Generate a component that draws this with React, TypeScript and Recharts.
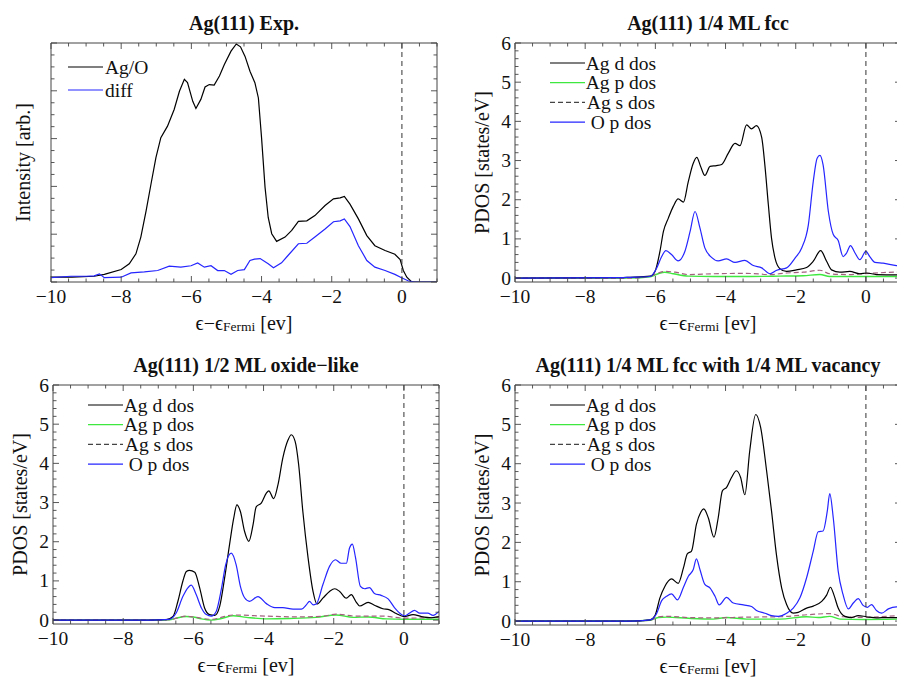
import { Label, Line, LineChart, XAxis, YAxis } from "recharts";

const FONT = '"Liberation Serif", "DejaVu Serif", serif';
const FRAME = "#454545";
const BLACK = "#000000";
const BLUE = "#2525ff";
const GREEN = "#3fe83f";
const SDOS = "#a3607f";
const TXT = { fontFamily: FONT, fontSize: 19.5, fill: "#111" };
const BIG = { ...TXT, fontSize: 20 };

// ---- Ag(111) Exp. (arb. units, 0..5) ----
const expAgO = [
  [-10, 0.1], [-9.4, 0.1], [-8.77, 0.12], [-8.48, 0.16], [-8.0, 0.26], [-7.77, 0.38], [-7.58, 0.59],
  [-7.44, 0.94], [-7.29, 1.49], [-7.15, 2.05], [-7.01, 2.6], [-6.87, 3.02], [-6.68, 3.26], [-6.49, 3.61],
  [-6.34, 3.99], [-6.2, 4.24], [-6.11, 4.17], [-5.96, 3.78], [-5.87, 3.63], [-5.73, 3.82], [-5.61, 4.08],
  [-5.49, 4.13], [-5.35, 4.12], [-5.2, 4.31], [-5.06, 4.55], [-4.87, 4.83], [-4.72, 4.98], [-4.6, 4.92],
  [-4.47, 4.72], [-4.33, 4.41], [-4.19, 4.17], [-4.09, 3.85], [-4.0, 3.02], [-3.9, 1.98], [-3.81, 1.35],
  [-3.71, 1.01], [-3.57, 0.85], [-3.33, 0.94], [-3.14, 1.08], [-2.95, 1.27], [-2.71, 1.28], [-2.48, 1.39],
  [-2.19, 1.6], [-1.95, 1.74], [-1.76, 1.76], [-1.64, 1.79], [-1.48, 1.63], [-1.24, 1.32], [-1.0, 0.97],
  [-0.77, 0.76], [-0.48, 0.66], [-0.2, 0.58], [-0.05, 0.47], [0.04, 0.24], [0.14, 0.1], [0.28, 0.0], [1.0, 0.0],
];
const expDiff = [
  [-10, 0.09], [-9.43, 0.12], [-9.0, 0.12], [-8.77, 0.13], [-8.62, 0.17], [-8.48, 0.09], [-8.0, 0.1],
  [-7.72, 0.19], [-7.34, 0.21], [-6.96, 0.24], [-6.63, 0.33], [-6.3, 0.31], [-6.01, 0.34], [-5.82, 0.4],
  [-5.63, 0.31], [-5.44, 0.34], [-5.25, 0.24], [-5.06, 0.24], [-4.87, 0.16], [-4.68, 0.24], [-4.49, 0.26],
  [-4.33, 0.45], [-4.2, 0.48], [-4.04, 0.49], [-3.81, 0.38], [-3.66, 0.3], [-3.43, 0.4], [-3.24, 0.56],
  [-2.95, 0.8], [-2.71, 0.81], [-2.48, 0.94], [-2.19, 1.11], [-1.95, 1.26], [-1.76, 1.28], [-1.64, 1.32],
  [-1.48, 1.16], [-1.24, 0.76], [-1.0, 0.45], [-0.77, 0.31], [-0.48, 0.24], [-0.2, 0.16], [-0.01, 0.09],
  [0.19, 0.02], [0.37, 0.0], [1.0, 0.0],
];

// ---- Ag(111) 1/4 ML fcc ----
const fccD = [
  [-10, 0], [-7, 0.01], [-6.72, 0.02], [-6.15, 0.05], [-6.01, 0.17], [-5.87, 0.68], [-5.77, 1.19], [-5.63, 1.53],
  [-5.49, 1.83], [-5.35, 2.02], [-5.2, 1.94], [-5.06, 2.47], [-4.92, 2.93], [-4.82, 3.08], [-4.71, 2.85],
  [-4.59, 2.62], [-4.44, 2.85], [-4.26, 2.87], [-4.11, 2.9], [-3.92, 3.19], [-3.73, 3.44], [-3.59, 3.38],
  [-3.4, 3.91], [-3.26, 3.81], [-3.12, 3.89], [-2.97, 3.59], [-2.88, 2.89], [-2.78, 1.87], [-2.69, 1.02],
  [-2.59, 0.51], [-2.45, 0.24], [-2.26, 0.17], [-1.98, 0.21], [-1.69, 0.27], [-1.5, 0.43], [-1.29, 0.7],
  [-1.12, 0.43], [-0.98, 0.21], [-0.74, 0.15], [-0.46, 0.17], [-0.17, 0.11], [0.02, 0.13], [0.3, 0.09],
  [0.87, 0.08], [1, 0.08],
];
const fccP = [
  [-10, 0], [-6.72, 0], [-6.15, 0.03], [-5.92, 0.11], [-5.73, 0.15], [-5.49, 0.11], [-5.06, 0.05], [-4.35, 0.04],
  [-3.4, 0.04], [-2.45, 0.05], [-1.79, 0.06], [-1.31, 0.09], [-1.03, 0.04], [-0.08, 0.04], [1, 0.04],
];
const fccS = [
  [-10, 0], [-6.72, 0], [-6.15, 0.05], [-5.92, 0.13], [-5.73, 0.17], [-5.44, 0.15], [-5.06, 0.09], [-4.35, 0.11],
  [-3.4, 0.12], [-2.73, 0.09], [-2.26, 0.13], [-1.79, 0.15], [-1.31, 0.2], [-1.03, 0.11], [-0.55, 0.09],
  [-0.08, 0.11], [0.87, 0.15], [1, 0.15],
];
const fccO = [
  [-10, 0], [-7, 0.01], [-6.72, 0.02], [-6.15, 0.04], [-5.96, 0.26], [-5.82, 0.55], [-5.7, 0.7], [-5.54, 0.6],
  [-5.35, 0.44], [-5.16, 0.68], [-5.01, 1.19], [-4.87, 1.7], [-4.73, 1.28], [-4.59, 0.77], [-4.4, 0.53],
  [-4.21, 0.44], [-3.97, 0.49], [-3.73, 0.4], [-3.45, 0.45], [-3.21, 0.32], [-2.97, 0.26], [-2.73, 0.11],
  [-2.54, 0.2], [-2.26, 0.26], [-2.02, 0.51], [-1.83, 0.77], [-1.64, 1.36], [-1.5, 2.47], [-1.39, 3.06],
  [-1.31, 3.13], [-1.22, 2.89], [-1.07, 1.7], [-0.93, 1.11], [-0.79, 0.96], [-0.65, 0.55], [-0.55, 0.64],
  [-0.44, 0.83], [-0.31, 0.64], [-0.17, 0.47], [0, 0.68], [0.11, 0.55], [0.26, 0.4], [0.49, 0.38],
  [0.87, 0.32], [1, 0.31],
];

// ---- Ag(111) 1/2 ML oxide-like ----
const oxD = [
  [-10, 0], [-7.25, 0], [-6.77, 0.01], [-6.58, 0.09], [-6.44, 0.48], [-6.3, 0.99], [-6.2, 1.24], [-6.11, 1.27],
  [-5.96, 1.22], [-5.82, 0.82], [-5.68, 0.31], [-5.54, 0.14], [-5.39, 0.12], [-5.25, 0.35], [-5.11, 1.07],
  [-4.97, 1.92], [-4.85, 2.6], [-4.76, 2.94], [-4.66, 2.77], [-4.54, 2.26], [-4.42, 2.01], [-4.3, 2.43],
  [-4.21, 2.89], [-4.06, 2.99], [-3.92, 3.24], [-3.85, 3.3], [-3.71, 3.1], [-3.59, 3.45], [-3.45, 4.14],
  [-3.3, 4.6], [-3.21, 4.73], [-3.1, 4.56], [-3.0, 3.97], [-2.88, 2.77], [-2.73, 1.58], [-2.59, 0.73],
  [-2.48, 0.41], [-2.31, 0.56], [-2.12, 0.73], [-1.97, 0.8], [-1.83, 0.73], [-1.64, 0.56], [-1.5, 0.65],
  [-1.36, 0.46], [-1.26, 0.36], [-1.02, 0.45], [-0.84, 0.38], [-0.6, 0.29], [-0.41, 0.26], [-0.22, 0.17],
  [0, 0.09], [0.26, 0.14], [0.5, 0.09], [0.78, 0.06], [1, 0.09],
];
const oxP = [
  [-10, 0], [-7.25, 0], [-6.68, 0.01], [-6.49, 0.05], [-6.2, 0.09], [-6.01, 0.08], [-5.77, 0.03], [-5.49, 0],
  [-5.2, 0.04], [-4.87, 0.11], [-4.49, 0.07], [-3.92, 0.03], [-3.26, 0.04], [-2.5, 0.07], [-1.93, 0.13],
  [-1.45, 0.07], [-1.02, 0.08], [-0.5, 0.03], [0, 0.02], [1, 0.02],
];
const oxS = [
  [-10, 0], [-7.25, 0], [-6.68, 0.01], [-6.2, 0.1], [-6.01, 0.08], [-5.49, 0.02], [-4.87, 0.13], [-3.92, 0.1],
  [-2.97, 0.08], [-2.31, 0.1], [-1.93, 0.15], [-1.36, 0.1], [-0.6, 0.1], [0, 0.05], [1, 0.07],
];
const oxO = [
  [-10, 0], [-7.25, 0], [-6.68, 0.02], [-6.49, 0.18], [-6.3, 0.6], [-6.15, 0.83], [-6.06, 0.89], [-5.92, 0.65],
  [-5.77, 0.31], [-5.63, 0.14], [-5.49, 0.1], [-5.35, 0.22], [-5.2, 0.8], [-5.08, 1.41], [-4.92, 1.71],
  [-4.78, 1.41], [-4.66, 0.86], [-4.54, 0.57], [-4.4, 0.48], [-4.16, 0.6], [-3.92, 0.42], [-3.68, 0.32],
  [-3.45, 0.32], [-3.16, 0.28], [-2.92, 0.28], [-2.78, 0.39], [-2.69, 0.48], [-2.59, 0.39], [-2.5, 0.41],
  [-2.31, 0.9], [-2.12, 1.37], [-1.95, 1.54], [-1.79, 1.45], [-1.64, 1.45], [-1.55, 1.84], [-1.47, 1.94],
  [-1.38, 1.6], [-1.24, 0.86], [-1.12, 0.8], [-0.98, 0.83], [-0.84, 0.68], [-0.65, 0.63], [-0.45, 0.54],
  [-0.27, 0.32], [-0.08, 0.15], [0.02, 0.11], [0.16, 0.18], [0.3, 0.25], [0.45, 0.18], [0.68, 0.18],
  [0.83, 0.12], [1, 0.22],
];

// ---- Ag(111) 1/4 ML fcc with 1/4 ML vacancy ----
const vacD = [
  [-10, 0], [-6.72, 0], [-6.15, 0.03], [-6.01, 0.14], [-5.87, 0.59], [-5.73, 0.88], [-5.54, 1.07], [-5.35, 0.96],
  [-5.2, 1.35], [-5.09, 1.71], [-4.97, 1.78], [-4.83, 2.46], [-4.71, 2.76], [-4.62, 2.85], [-4.49, 2.62],
  [-4.33, 2.13], [-4.21, 2.62], [-4.09, 3.31], [-3.97, 3.4], [-3.83, 3.65], [-3.69, 3.82], [-3.57, 3.65],
  [-3.45, 3.21], [-3.31, 4.33], [-3.14, 5.25], [-3.0, 4.92], [-2.83, 3.82], [-2.69, 2.8], [-2.55, 1.69],
  [-2.4, 0.84], [-2.26, 0.42], [-2.07, 0.2], [-1.93, 0.22], [-1.69, 0.33], [-1.5, 0.38], [-1.26, 0.5],
  [-1.12, 0.66], [-1.01, 0.86], [-0.91, 0.66], [-0.79, 0.33], [-0.6, 0.12], [-0.41, 0.09], [-0.22, 0.14],
  [0.02, 0.11], [0.3, 0.08], [0.59, 0.09], [0.87, 0.09], [1, 0.09],
];
const vacP = [
  [-10, 0], [-6.72, 0], [-6.15, 0.02], [-5.92, 0.09], [-5.68, 0.1], [-5.06, 0.07], [-4.35, 0.05], [-3.97, 0.09],
  [-3.4, 0.05], [-2.45, 0.05], [-1.69, 0.11], [-1.36, 0.09], [-1.03, 0.12], [-0.74, 0.05], [-0.08, 0.04], [1, 0.05],
];
const vacS = [
  [-10, 0], [-6.72, 0], [-6.15, 0.02], [-5.92, 0.11], [-5.68, 0.12], [-5.06, 0.09], [-4.35, 0.08], [-3.4, 0.1],
  [-2.45, 0.11], [-1.69, 0.16], [-1.03, 0.19], [-0.65, 0.11], [-0.08, 0.09], [0.87, 0.13], [1, 0.13],
];
const vacO = [
  [-10, 0], [-6.72, 0], [-6.15, 0.03], [-5.96, 0.2], [-5.82, 0.52], [-5.68, 0.63], [-5.54, 0.69], [-5.37, 0.54],
  [-5.2, 0.86], [-5.06, 1.14], [-4.92, 1.31], [-4.83, 1.58], [-4.73, 1.31], [-4.59, 0.93], [-4.44, 0.84],
  [-4.3, 0.63], [-4.18, 0.41], [-3.97, 0.6], [-3.78, 0.46], [-3.49, 0.41], [-3.26, 0.37], [-3.12, 0.27],
  [-2.88, 0.2], [-2.69, 0.14], [-2.5, 0.12], [-2.26, 0.2], [-2.07, 0.33], [-1.88, 0.59], [-1.69, 1.1],
  [-1.5, 1.78], [-1.36, 2.27], [-1.22, 2.29], [-1.1, 2.8], [-1.03, 3.24], [-0.93, 2.62], [-0.79, 1.27],
  [-0.65, 0.67], [-0.5, 0.31], [-0.36, 0.46], [-0.22, 0.57], [-0.08, 0.4], [0.04, 0.35], [0.16, 0.42],
  [0.3, 0.27], [0.45, 0.2], [0.64, 0.31], [0.87, 0.36], [1, 0.36],
];

// ---- axes / labels ----
const xMajor = [-10, -8, -6, -4, -2, 0];
const dosMajor = [0, 1, 2, 3, 4, 5, 6];
const expMajor = [0, 1, 2, 3, 4, 5];
const dosNames = ["Ag d dos", "Ag p dos", "Ag s dos", "O p dos"];
const expNames = ["Ag/O", "diff"];
const titles = [
  "Ag(111) Exp.",
  "Ag(111) 1/4 ML fcc",
  "Ag(111) 1/2 ML oxide\u2212like",
  "Ag(111) 1/4 ML fcc with 1/4 ML vacancy",
];

const steps = (a: number, b: number, d: number) =>
  Array.from({ length: Math.round((b - a) / d) + 1 }, (_, i) => +(a + i * d).toFixed(3));
const xTicks = steps(-10, 1, 0.5);
const dosTicks = steps(0, 6, 0.2);
const expTicks = steps(0, 5, 0.25);

const pts = (arr: number[][]) => arr.map(([x, y]) => ({ x, y }));
const fmt = (v: number) => (v < 0 ? `\u2212${-v}` : `${v}`);

type Side = "bottom" | "top" | "left" | "right";

const tickMaker = (side: Side, majors: number[], labels: boolean) => (props: any) => {
  const { x, y, payload } = props;
  const v = payload.value as number;
  const major = majors.some((m) => Math.abs(m - v) < 1e-6);
  const len = major ? 6 : 3.5;
  const dx = side === "left" ? len : side === "right" ? -len : 0;
  const dy = side === "bottom" ? -len : side === "top" ? len : 0;
  return (
    <g>
      <line x1={x} y1={y} x2={x + dx} y2={y + dy} stroke={FRAME} strokeWidth={0.9} />
      {labels && major && side === "bottom" && (
        <text x={x} y={y + 14} textAnchor="middle" dominantBaseline="central" style={TXT}>
          {fmt(v)}
        </text>
      )}
      {labels && major && side === "left" && (
        <text x={x - 4} y={y} textAnchor="end" dominantBaseline="central" style={TXT}>
          {fmt(v)}
        </text>
      )}
    </g>
  );
};

type Series = { data: number[][]; color: string; dash?: string; width?: number; smooth?: boolean };
type Key = { name: string; color: string; dash?: string };

type PanelProps = {
  left: number;
  top: number;
  width: number;
  height: number;
  // plot box edges inside the chart (px)
  box: { top: number; right: number; bottom: number; left: number };
  title: string;
  yLabel: string;
  yDomain: [number, number];
  yTicks: number[];
  yMajor: number[];
  yNumbers: boolean;
  series: Series[];
  keys: Key[];
  compactKey?: boolean;
};

function Panel(p: PanelProps) {
  const fermi = pts([[0, p.yDomain[0]], [0, p.yDomain[1]]]);
  const yLabelGap = p.yNumbers ? 33 : 28;
  // axes are 1px thick bands, so take that off the margins
  const margin = {
    top: p.box.top - 1,
    right: p.width - p.box.right - 1,
    bottom: p.height - p.box.bottom - 1,
    left: p.box.left - 1,
  };

  const header = () => {
    const x = p.box.left;
    const y = p.box.top;
    const width = p.box.right - p.box.left;
    return (
      <g>
        <text x={x + width / 2} y={y - 20} textAnchor="middle" dominantBaseline="central" style={{ ...BIG, fontWeight: 700 }}>
          {p.title}
        </text>
        {p.keys.map((k, i) => {
          const ry = p.compactKey ? y + 24 + i * 23 : y + 20 + i * 19.7;
          const x1 = p.compactKey ? x + 17 : x + 35;
          const x2 = p.compactKey ? x + 52 : x + 70;
          return (
            <g key={k.name}>
              <line x1={x1} x2={x2} y1={ry} y2={ry} stroke={k.color} strokeWidth={1.2} strokeDasharray={k.dash} />
              <text
                x={p.compactKey ? x + 54 : x + 106}
                y={ry}
                textAnchor={p.compactKey ? "start" : "middle"}
                dominantBaseline="central"
                style={TXT}
              >
                {k.name}
              </text>
            </g>
          );
        })}
      </g>
    );
  };

  const xTitle = () => {
    const cx = (p.box.left + p.box.right) / 2;
    return (
      <text x={cx} y={p.box.bottom + 41} textAnchor="middle" dominantBaseline="central" style={BIG}>
        {"\u03f5\u2212\u03f5"}
        <tspan fontSize={13.5} dy={3}>
          Fermi
        </tspan>
        <tspan dy={-3}> [ev]</tspan>
      </text>
    );
  };

  const yTitle = () => {
    const cx = p.box.left - yLabelGap;
    const cy = (p.box.top + p.box.bottom) / 2;
    return (
      <text x={cx} y={cy} textAnchor="middle" dominantBaseline="central" transform={`rotate(-90 ${cx} ${cy})`} style={BIG}>
        {p.yLabel}
      </text>
    );
  };

  const axisLine = { stroke: FRAME, strokeWidth: 1 };

  return (
    <div style={{ position: "absolute", left: p.left, top: p.top }}>
      <LineChart width={p.width} height={p.height} margin={margin}>
        <XAxis
          xAxisId="b"
          dataKey="x"
          type="number"
          domain={[-10, 1]}
          allowDataOverflow
          ticks={xTicks}
          interval={0}
          height={1}
          tickSize={0}
          tickMargin={0}
          tickLine={false}
          axisLine={axisLine}
          tick={tickMaker("bottom", xMajor, true)}
        >
          <Label content={xTitle} />
        </XAxis>
        <XAxis
          xAxisId="t"
          orientation="top"
          dataKey="x"
          type="number"
          domain={[-10, 1]}
          allowDataOverflow
          ticks={xTicks}
          interval={0}
          height={1}
          tickSize={0}
          tickMargin={0}
          tickLine={false}
          axisLine={axisLine}
          tick={tickMaker("top", xMajor, false)}
        >
          <Label content={header} />
        </XAxis>
        <YAxis
          yAxisId="l"
          type="number"
          domain={p.yDomain}
          allowDataOverflow
          ticks={p.yTicks}
          interval={0}
          width={1}
          tickSize={0}
          tickMargin={0}
          tickLine={false}
          axisLine={axisLine}
          tick={tickMaker("left", p.yMajor, p.yNumbers)}
        >
          <Label content={yTitle} />
        </YAxis>
        <YAxis
          yAxisId="r"
          orientation="right"
          type="number"
          domain={p.yDomain}
          allowDataOverflow
          ticks={p.yTicks}
          interval={0}
          width={1}
          tickSize={0}
          tickMargin={0}
          tickLine={false}
          axisLine={axisLine}
          tick={tickMaker("right", p.yMajor, false)}
        />
        {p.series.map((s, i) => (
          <Line
            key={i}
            xAxisId="b"
            yAxisId="l"
            data={pts(s.data)}
            dataKey="y"
            type={s.smooth ? "monotone" : "linear"}
            stroke={s.color}
            strokeWidth={s.width ?? 1.2}
            strokeDasharray={s.dash}
            dot={false}
            activeDot={false}
            isAnimationActive={false}
          />
        ))}
        <Line
          xAxisId="t"
          yAxisId="r"
          data={fermi}
          dataKey="y"
          type="linear"
          stroke="#333"
          strokeWidth={1}
          strokeDasharray="5 4"
          dot={false}
          activeDot={false}
          isAnimationActive={false}
        />
      </LineChart>
    </div>
  );
}

const dosKeys: Key[] = [
  { name: dosNames[0], color: BLACK },
  { name: dosNames[1], color: GREEN },
  { name: dosNames[2], color: "#444", dash: "5 3" },
  { name: dosNames[3], color: BLUE },
];

const dosSeries = (d: number[][], pp: number[][], s: number[][], o: number[][]): Series[] => [
  { data: pp, color: GREEN, width: 1.4, smooth: true },
  { data: s, color: SDOS, dash: "5 3", smooth: true },
  { data: d, color: BLACK, smooth: true },
  { data: o, color: BLUE, smooth: true },
];

export default function App() {
  return (
    <div style={{ position: "absolute", left: 0, top: 0, width: 897, height: 678, overflow: "hidden", background: "#fff" }}>
      <Panel
        left={0}
        top={0}
        width={448}
        height={340}
        box={{ top: 43, right: 437, bottom: 282, left: 51 }}
        title={titles[0]}
        yLabel="Intensity [arb.]"
        yDomain={[0, 5]}
        yTicks={expTicks}
        yMajor={expMajor}
        yNumbers={false}
        series={[
          { data: expAgO, color: BLACK },
          { data: expDiff, color: BLUE },
        ]}
        keys={[
          { name: expNames[0], color: BLACK },
          { name: expNames[1], color: BLUE },
        ]}
        compactKey
      />
      <Panel
        left={448}
        top={0}
        width={460}
        height={340}
        box={{ top: 43, right: 453, bottom: 282, left: 67 }}
        title={titles[1]}
        yLabel="PDOS [states/eV]"
        yDomain={[-0.1, 6]}
        yTicks={dosTicks}
        yMajor={dosMajor}
        yNumbers
        series={dosSeries(fccD, fccP, fccS, fccO)}
        keys={dosKeys}
      />
      <Panel
        left={0}
        top={340}
        width={448}
        height={338}
        box={{ top: 45, right: 439, bottom: 284, left: 53 }}
        title={titles[2]}
        yLabel="PDOS [states/eV]"
        yDomain={[-0.1, 6]}
        yTicks={dosTicks}
        yMajor={dosMajor}
        yNumbers
        series={dosSeries(oxD, oxP, oxS, oxO)}
        keys={dosKeys}
      />
      <Panel
        left={448}
        top={340}
        width={460}
        height={338}
        box={{ top: 45, right: 453, bottom: 285, left: 67 }}
        title={titles[3]}
        yLabel="PDOS [states/eV]"
        yDomain={[-0.1, 6]}
        yTicks={dosTicks}
        yMajor={dosMajor}
        yNumbers
        series={dosSeries(vacD, vacP, vacS, vacO)}
        keys={dosKeys}
      />
    </div>
  );
}
